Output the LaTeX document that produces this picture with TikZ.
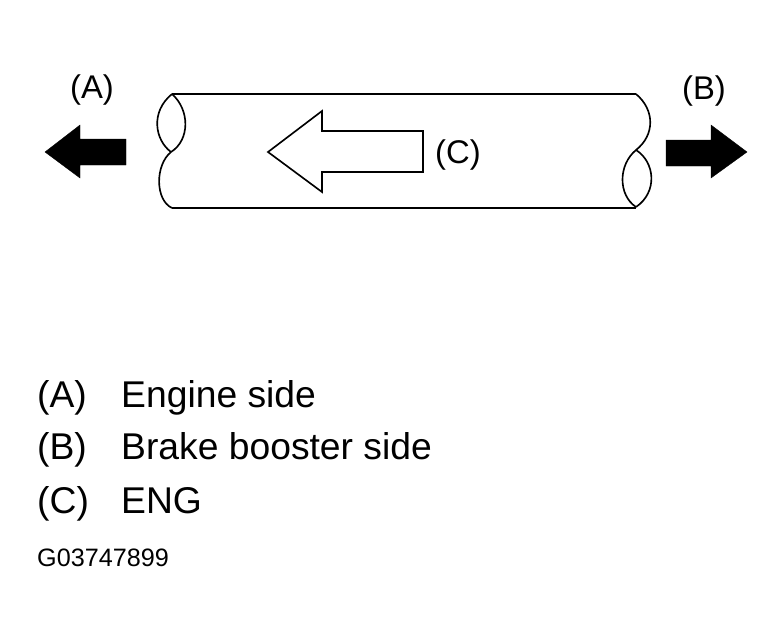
\documentclass[tikz,border=0pt]{standalone}
\usepackage{fontspec}
\setmainfont{Liberation Sans}
\usetikzlibrary{positioning}

\begin{document}
\begin{tikzpicture}[x=0.03cm, y=-0.03cm,
    pipeline/.style={draw=black, line width=1.4pt},
    flowarrow/.style={fill=black, draw=black, line width=0.3pt},
    caselabel/.style={font=\fontsize{28}{32}\selectfont, inner sep=0pt},
    legendtext/.style={font=\fontsize{31.8}{36}\selectfont, anchor=base west, inner sep=0pt},
    figurecode/.style={font=\fontsize{21.5}{25}\selectfont, anchor=base west, inner sep=0pt}]

    \useasboundingbox (0,0) rectangle (784,642);

    % Pipe outline
    \draw[pipeline] (172,94) -- (636,94);
    \draw[pipeline] (172,208) -- (636,208);

    % Left broken end
    \draw[pipeline] (172,94) .. controls (150,112) and (155,140) .. (171,152);
    \draw[pipeline] (172,94) .. controls (190,110) and (190,140) .. (171,152)
        .. controls (155,165) and (155,200) .. (172,208);

    % Right broken end
    \draw[pipeline] (636,94) .. controls (655,110) and (655,135) .. (636,150)
        .. controls (618,165) and (618,195) .. (636,207);
    \draw[pipeline] (636,150) .. controls (655,162) and (658,192) .. (636,207);

    % Solid arrows
    \fill[flowarrow] (45,152) -- (80,125) -- (80,139) -- (126,139) -- (126,165) -- (80,165) -- (80,178) -- cycle;
    \fill[flowarrow] (747,152) -- (711,125) -- (711,140) -- (666,140) -- (666,166) -- (711,166) -- (711,178) -- cycle;

    % Hollow arrow
    \draw[pipeline] (268,152) -- (322,111) -- (322,131) -- (423,131) -- (423,172) -- (322,172) -- (322,192) -- cycle;

    % Labels
    \node[caselabel] (labelA) at (92,90) {(A)};
    \node[caselabel] (labelB) at (704,91) {(B)};
    \node[caselabel] (labelC) at (458,155) {(C)};

    % Legend
    \node[legendtext] (keyA) at (37,407) {(A)};
    \node[legendtext] (textA) at (121,407) {Engine side};
    \node[legendtext] (keyB) at (37,459) {(B)};
    \node[legendtext] (textB) at (121,459) {Brake booster side};
    \node[legendtext] (keyC) at (37,513) {(C)};
    \node[legendtext] (textC) at (121,513) {ENG};
    \node[figurecode] (figcode) at (37,566) {G03747899};
\end{tikzpicture}
\end{document}
